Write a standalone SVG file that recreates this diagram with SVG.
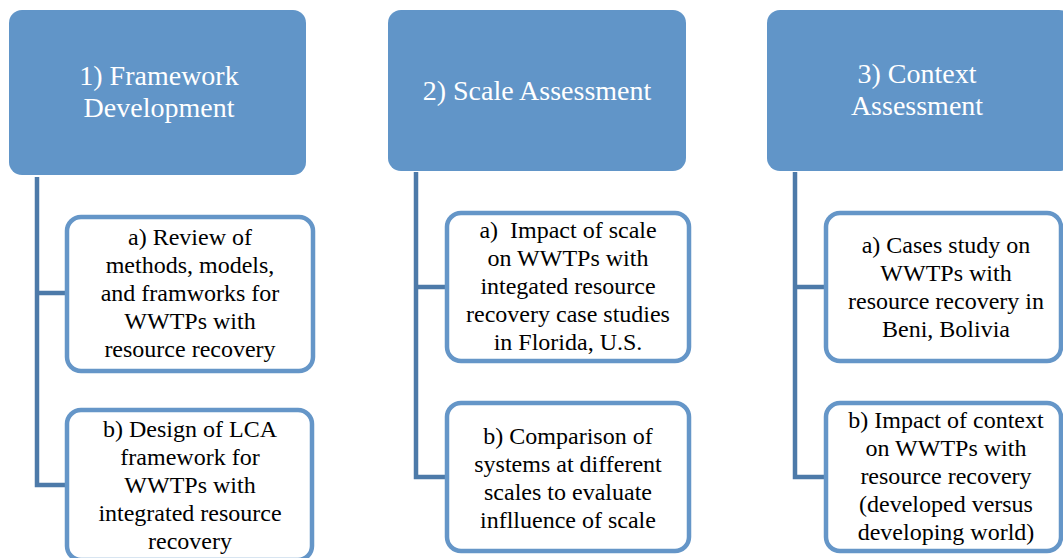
<svg xmlns="http://www.w3.org/2000/svg" width="1063" height="558" viewBox="0 0 1063 558">
<style>
.hdr{fill:#6195c8;stroke:none}
.sub{fill:#ffffff;stroke:#6596c8;stroke-width:4.5}
.con{fill:none;stroke:#4d7aa9;stroke-width:4.5}
.ht{font-size:28px;fill:#ffffff;text-anchor:middle}
.st{font-size:24px;fill:#000000;text-anchor:middle}
</style>
<rect width="1063" height="558" fill="#ffffff"/>
<g id="connectors">
<path class="con" d="M37,177 V485 H66 M37,293 H66"/>
<path class="con" d="M416,172 V477 H446 M416,287 H446"/>
<path class="con" d="M795,172 V477 H826 M795,287 H826"/>
</g>
<g font-family="Liberation Serif, Times New Roman, Times, Noto Serif, DejaVu Serif, serif">
<g id="n1">
<rect class="hdr" x="9" y="10" width="297" height="165" rx="13"/>
<text class="ht" x="159" y="85">1) Framework</text>
<text class="ht" x="159" y="117">Development</text>
</g>
<g id="n1a">
<rect class="sub" x="67" y="217" width="246" height="154" rx="14"/>
<text class="st" x="190" y="245">a) Review of</text>
<text class="st" x="190" y="273">methods, models,</text>
<text class="st" x="190" y="301">and framworks for</text>
<text class="st" x="190" y="329">WWTPs with</text>
<text class="st" x="190" y="357">resource recovery</text>
</g>
<g id="n1b">
<rect class="sub" x="67" y="410" width="245" height="150" rx="14"/>
<text class="st" x="190" y="437">b) Design of LCA</text>
<text class="st" x="190" y="465">framework for</text>
<text class="st" x="190" y="493">WWTPs with</text>
<text class="st" x="190" y="521">integrated resource</text>
<text class="st" x="190" y="549">recovery</text>
</g>
<g id="n2">
<rect class="hdr" x="388" y="10" width="298" height="161" rx="13"/>
<text class="ht" x="537" y="100">2) Scale Assessment</text>
</g>
<g id="n2a">
<rect class="sub" x="447" y="213" width="242" height="148" rx="14"/>
<text class="st" x="568" y="238">a)&#160; Impact of scale</text>
<text class="st" x="568" y="266">on WWTPs with</text>
<text class="st" x="568" y="294">integated resource</text>
<text class="st" x="568" y="322">recovery case studies</text>
<text class="st" x="568" y="350">in Florida, U.S.</text>
</g>
<g id="n2b">
<rect class="sub" x="447" y="403" width="242" height="148" rx="14"/>
<text class="st" x="568" y="444">b) Comparison of</text>
<text class="st" x="568" y="472">systems at different</text>
<text class="st" x="568" y="500">scales to evaluate</text>
<text class="st" x="568" y="528">inflluence of scale</text>
</g>
<g id="n3">
<rect class="hdr" x="767" y="10" width="305" height="161" rx="13"/>
<text class="ht" x="917" y="83">3) Context</text>
<text class="ht" x="917" y="115">Assessment</text>
</g>
<g id="n3a">
<rect class="sub" x="826" y="213" width="235" height="148" rx="14"/>
<text class="st" x="946" y="253">a) Cases study on</text>
<text class="st" x="946" y="281">WWTPs with</text>
<text class="st" x="946" y="309">resource recovery in</text>
<text class="st" x="946" y="337">Beni, Bolivia</text>
</g>
<g id="n3b">
<rect class="sub" x="826" y="403" width="235" height="148" rx="14"/>
<text class="st" x="946" y="428">b) Impact of context</text>
<text class="st" x="946" y="456">on WWTPs with</text>
<text class="st" x="946" y="484">resource recovery</text>
<text class="st" x="946" y="512">(developed versus</text>
<text class="st" x="946" y="540">developing world)</text>
</g>
</g>
</svg>
